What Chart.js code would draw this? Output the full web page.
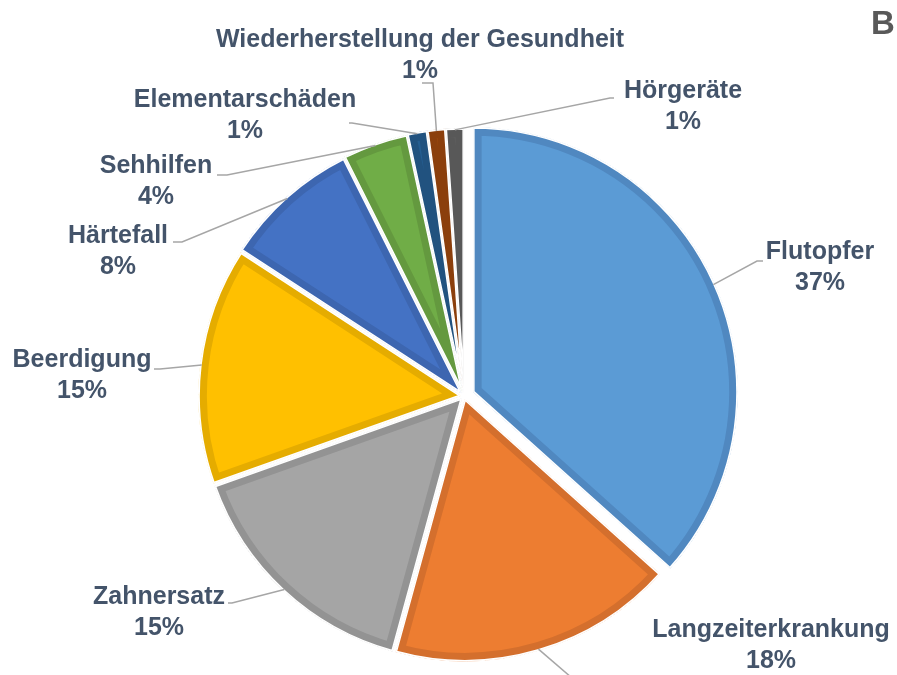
<!DOCTYPE html>
<html>
<head>
<meta charset="utf-8">
<script src="https://cdn.jsdelivr.net/npm/chart.js@4/dist/chart.umd.min.js"></script>
<style>
  body { margin: 0; background: #fff; }
  #wrap { width: 897px; height: 675px; position: relative; }
</style>
</head>
<body>
<div id="wrap"><canvas id="pieChart"></canvas></div>
<script>
// Kategorien und Anteile (%)
const categories = ['Flutopfer', 'Langzeiterkrankung', 'Zahnersatz', 'Beerdigung', 'Härtefall',
    'Sehhilfen', 'Elementarschäden', 'Wiederherstellung der Gesundheit', 'Hörgeräte'];
const shares = [36.6, 17.6, 15.3, 14.6, 8.4, 4.0, 1.2, 1.1, 1.1];

const fillColors = ['#5B9BD5', '#ED7D31', '#A5A5A5', '#FFC000', '#4472C4', '#70AD47', '#255E91', '#9E480E', '#636363'];
const edgeColors = ['#5088C0', '#D46F2D', '#939393', '#E5AC00', '#3D66B0', '#64993F', '#21527F', '#8B3F0C', '#585858'];

// label layout relative to pie centre: text centre, elbow, stub end
const labelLayout = [
    { t: [356, -129], e: [293, -135], s: [299, -135] },
    { t: [307, 249], e: [108, 282], s: [108, 282] },
    { t: [-305, 216], e: [-232, 207], s: [-236, 207] },
    { t: [-382, -21], e: [-304, -27], s: [-310, -27] },
    { t: [-346, -145], e: [-282, -154], s: [-291, -154] },
    { t: [-308, -215], e: [-237, -221], s: [-247, -221] },
    { t: [-219, -281], e: [-112, -273], s: [-115, -273] },
    { t: [-44, -341], e: [-31, -313], s: [-42, -313] },
    { t: [219, -290], e: [146, -298], s: [150, -298] }
];

const total = shares.reduce((a, b) => a + b, 0);

const sliceStyle = { gap: 1.5, band: 7 };

function arcGeometry(arc) {
    const p = arc.getProps(['x', 'y', 'startAngle', 'endAngle', 'outerRadius']);
    const off = (arc.options.offset || 0) / 4;
    const mid = (p.startAngle + p.endAngle) / 2;
    const fix = 1 - Math.sin(Math.min(Math.PI, p.endAngle - p.startAngle));
    return {
        cx: p.x + Math.cos(mid) * off,
        cy: p.y + Math.sin(mid) * off,
        R: p.outerRadius + off * fix,
        start: p.startAngle, end: p.endAngle, mid: mid, x: p.x, y: p.y
    };
}

const outsideLabels = {
    id: 'outsideLabels',
    afterDatasetsDraw(chart) {
        const ctx = chart.ctx;
        const arcs = chart.getDatasetMeta(0).data;
        ctx.save();
        // darker inner rim and white edge, following each arc
        arcs.forEach((arc, i) => {
            const g = arcGeometry(arc);
            ctx.save();
            ctx.beginPath();
            ctx.moveTo(g.cx, g.cy);
            ctx.arc(g.cx, g.cy, g.R, g.start, g.end);
            ctx.closePath();
            ctx.clip();
            ctx.lineJoin = 'miter';
            ctx.strokeStyle = edgeColors[i];
            ctx.lineWidth = 2 * (sliceStyle.gap + sliceStyle.band);
            ctx.stroke();
            ctx.strokeStyle = '#FFFFFF';
            ctx.lineWidth = 2 * sliceStyle.gap;
            ctx.stroke();
            ctx.restore();
            ctx.strokeStyle = '#FFFFFF';
            ctx.lineWidth = 1;
            ctx.stroke();
        });
        arcs.forEach((arc, i) => {
            const g = arcGeometry(arc);
            const lay = labelLayout[i];
            const r = g.R - sliceStyle.gap;
            // leader line
            ctx.strokeStyle = '#A6A6A6';
            ctx.lineWidth = 1.5;
            ctx.beginPath();
            ctx.moveTo(g.cx + Math.cos(g.mid) * r, g.cy + Math.sin(g.mid) * r);
            ctx.lineTo(g.x + lay.e[0], g.y + lay.e[1]);
            ctx.lineTo(g.x + lay.s[0], g.y + lay.s[1]);
            ctx.stroke();
            // text
            ctx.fillStyle = '#44546A';
            ctx.font = 'bold 25px "Liberation Sans", Arial, sans-serif';
            ctx.textAlign = 'center';
            ctx.textBaseline = 'middle';
            const tx = g.x + lay.t[0], ty = g.y + lay.t[1];
            ctx.fillText(categories[i], tx, ty - 15);
            ctx.fillText(Math.round(shares[i] / total * 100) + '%', tx, ty + 16);
        });
        // panel letter
        ctx.fillStyle = '#595959';
        ctx.font = 'bold 33px "Liberation Sans", Arial, sans-serif';
        ctx.textAlign = 'left';
        ctx.textBaseline = 'alphabetic';
        ctx.fillText('B', 871, 34);
        ctx.restore();
    }
};

const pieCtx = document.getElementById('pieChart').getContext('2d');
new Chart(pieCtx, {
    type: 'pie',
    data: {
        labels: categories,
        datasets: [{
            data: shares,
            backgroundColor: fillColors,
            borderWidth: 0,
            offset: [40, 12, 12, 12, 12, 12, 12, 12, 12]
        }]
    },
    options: {
        responsive: true,
        maintainAspectRatio: false,
        animation: false,
        radius: 262,
        layout: { padding: { left: 31, right: 0, top: 117, bottom: 0 } },
        plugins: {
            legend: { display: false },
            tooltip: { enabled: false }
        }
    },
    plugins: [outsideLabels]
});
</script>
</body>
</html>
